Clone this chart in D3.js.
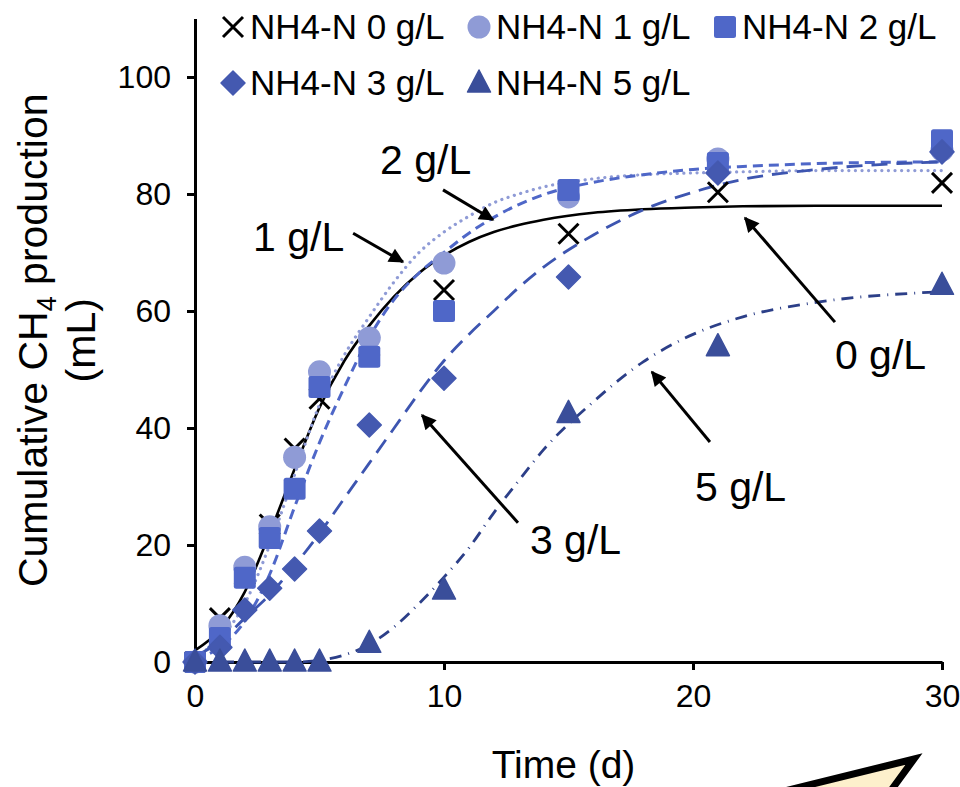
<!DOCTYPE html>
<html>
<head>
<meta charset="utf-8">
<script src="https://cdn.jsdelivr.net/npm/d3@7"></script>
<style>
  body { margin: 0; background: #fff; }
  text { font-family: "Liberation Sans", Arial, sans-serif; fill: #000; }
</style>
</head>
<body>
<div id="chart"></div>
<script>
//* measured points (days, mL)
var days = [0, 1, 2, 3, 4, 5, 7, 10, 15, 21, 30]
var nh0 = [0, 7.5, 15, 23.5, 36.5, 45, 54, 63.6, 73.2, 80.3, 81.9]
var nh1 = [0, 6.2, 16.2, 23.1, 35, 49.6, 55.4, 68.2, 79.5, 86, 87.5]
var nh2 = [0, 4.1, 14.4, 21.2, 29.6, 47, 52.2, 60, 80.7, 85.3, 89.2]
var nh3 = [0, 2.5, 8.9, 12.6, 15.9, 22.4, 40.5, 48.5, 65.8, 83.6, 87.2]
var nh5 = [0, 0, 0, 0, 0, 0, 3.2, 12.3, 42.5, 53.9, 64.4]

//* fitted curves
var fitDays = [0, 1, 2, 3, 4, 5, 6, 7, 8, 9, 10, 11, 12, 13, 14, 16, 18, 20, 22, 25, 30]
var fit0 = [2, 5.5, 12, 22, 33, 43.5, 51.5, 57.5, 62.5, 66.5, 69.5, 71.8, 73.5, 74.7, 75.6, 76.8, 77.4, 77.7, 77.9, 78, 78]
var fit1 = [1, 4, 10, 20, 32, 44, 52.5, 59, 65, 70, 73.5, 76.2, 78.5, 80, 81.2, 82.6, 83.3, 83.6, 83.8, 84, 84]
var fit2 = [0.5, 2.5, 7, 15, 26.5, 37.5, 47, 55.5, 62, 66.5, 70, 73.3, 76, 78.2, 79.9, 82, 83.3, 84.2, 84.7, 85.2, 85.5]
var fit3 = [1, 3.5, 7.5, 11.5, 16.5, 22, 28, 34, 40, 46, 51.5, 56, 60, 64, 67.5, 73, 77.3, 80.3, 82.5, 84.2, 85.5]
var fit5 = [0, 0, 0, 0, 0, 0.3, 1.2, 3, 6, 10, 14.5, 19.5, 25.5, 31, 36.3, 44.5, 51.3, 56, 59, 61.5, 63.3]

var legendLabels = ["NH4-N 0 g/L", "NH4-N 1 g/L", "NH4-N 2 g/L", "NH4-N 3 g/L", "NH4-N 5 g/L"]
var xTicks = [0, 10, 20, 30]
var yTicks = [0, 20, 40, 60, 80, 100]

var width = 960, height = 787

var svg = d3.select("#chart").append("svg")
    .attr("width", width)
    .attr("height", height)

var x = d3.scaleLinear().domain([0, 30]).range([195, 942])
var y = d3.scaleLinear().domain([0, 110]).range([662, 18.5])

// arrow head
svg.append("defs").append("marker")
    .attr("id", "arr")
    .attr("viewBox", "0 0 10 10")
    .attr("refX", 9).attr("refY", 5)
    .attr("markerWidth", 6).attr("markerHeight", 5)
    .attr("markerUnits", "strokeWidth")
    .attr("orient", "auto")
  .append("path").attr("d", "M0,0 L10,5 L0,10 z").attr("fill", "#000")

//* axes
var gx = svg.append("g")
    .attr("transform", "translate(0," + y(0) + ")")
    .call(d3.axisBottom(x).tickValues(xTicks).tickSize(8).tickSizeOuter(0).tickPadding(14))
var gy = svg.append("g")
    .attr("transform", "translate(" + x(0) + ",0)")
    .call(d3.axisLeft(y).tickValues(yTicks).tickSize(8).tickSizeOuter(0).tickPadding(16))
;[gx, gy].forEach(function(g) {
    g.select(".domain").attr("stroke", "#000").attr("stroke-width", 3)
    g.selectAll(".tick line").attr("stroke", "#000").attr("stroke-width", 3)
    g.selectAll(".tick text").attr("font-size", "32px").attr("font-family", "Liberation Sans, Arial, sans-serif").attr("fill", "#000")
})

svg.append("text")
    .attr("x", (x(0) + x(30)) / 2 - 5).attr("y", 778)
    .attr("text-anchor", "middle")
    .attr("font-size", "39px")
    .text("Time (d)")

var yt = svg.append("g").attr("transform", "translate(0," + ((y(0) + y(110)) / 2) + ") rotate(-90)")
var t1 = yt.append("text").attr("x", 0).attr("y", 47).attr("text-anchor", "middle").attr("font-size", "41px")
t1.append("tspan").text("Cumulative CH")
t1.append("tspan").attr("font-size", "27px").attr("dy", 9).text("4")
t1.append("tspan").attr("dy", -9).text(" production")
yt.append("text").attr("x", 0).attr("y", 95).attr("text-anchor", "middle").attr("font-size", "41px").text("(mL)")

//* fitted curves
var line = d3.line()
    .x(function(d) { return x(d[0]) })
    .y(function(d) { return y(d[1]) })
    .curve(d3.curveMonotoneX)

var fits = [
    {vals: fit0, color: "#000000", dash: null, w: 2.6},
    {vals: fit1, color: "#8f9bd6", dash: "0.1 6.5", w: 3.2},
    {vals: fit2, color: "#4f67c8", dash: "10 6", w: 3},
    {vals: fit3, color: "#3d55b0", dash: "16 9", w: 2.8},
    {vals: fit5, color: "#2c3f88", dash: "12 7 1 7", w: 2.8}
]
fits.forEach(function(f) {
    svg.append("path")
        .datum(fitDays.map(function(t, i) { return [t, f.vals[i]] }))
        .attr("d", line)
        .attr("fill", "none")
        .attr("stroke", f.color)
        .attr("stroke-width", f.w)
        .attr("stroke-linecap", f.dash && f.dash.indexOf("0.1") == 0 ? "round" : "butt")
        .attr("stroke-dasharray", f.dash)
})

//* markers
function drawMark(g, kind, cx, cy) {
    if (kind == "x") {
        g.append("path").attr("d", "M" + (cx - 10) + "," + (cy - 10) + "L" + (cx + 10) + "," + (cy + 10) + "M" + (cx + 10) + "," + (cy - 10) + "L" + (cx - 10) + "," + (cy + 10))
            .attr("stroke", "#000").attr("stroke-width", 3).attr("fill", "none")
    } else if (kind == "circle") {
        g.append("circle").attr("cx", cx).attr("cy", cy).attr("r", 11.5).attr("fill", "#8f9bd6")
    } else if (kind == "square") {
        g.append("rect").attr("x", cx - 11).attr("y", cy - 11).attr("width", 22).attr("height", 22).attr("rx", 2.5).attr("fill", "#4f67c8")
    } else if (kind == "diamond") {
        g.append("path").attr("d", "M" + cx + "," + (cy - 12) + "L" + (cx + 12) + "," + cy + "L" + cx + "," + (cy + 12) + "L" + (cx - 12) + "," + cy + "Z")
            .attr("fill", "#4459b0").attr("stroke", "#4459b0").attr("stroke-width", 1.5).attr("stroke-linejoin", "round")
    } else if (kind == "triangle") {
        g.append("path").attr("d", "M" + cx + "," + (cy - 13) + "L" + (cx + 11.5) + "," + (cy + 9) + "L" + (cx - 11.5) + "," + (cy + 9) + "Z")
            .attr("fill", "#3a4e9a").attr("stroke", "#3a4e9a").attr("stroke-width", 1.5).attr("stroke-linejoin", "round")
    }
}

var series = [
    {vals: nh0, kind: "x"},
    {vals: nh1, kind: "circle"},
    {vals: nh2, kind: "square"},
    {vals: nh3, kind: "diamond"},
    {vals: nh5, kind: "triangle"}
]
series.forEach(function(s) {
    var g = svg.append("g")
    days.forEach(function(t, i) { drawMark(g, s.kind, x(t), y(s.vals[i])) })
})

//* legend
var legPos = [[222, 27], [468, 27], [714, 27], [222, 83], [468, 83]]
legendLabels.forEach(function(lab, i) {
    var g = svg.append("g")
    drawMark(g, series[i].kind, legPos[i][0] + 11, legPos[i][1])
    g.append("text")
        .attr("x", legPos[i][0] + 28).attr("y", legPos[i][1] + 12)
        .attr("font-size", "35px")
        .text(lab)
})

//* annotations (data coords)
var notes = [
    {label: "2 g/L", tx: 7.43, ty: 83.4, from: [9.96, 80.7], to: [11.97, 75.6]},
    {label: "1 g/L", tx: 2.33, ty: 70.3, from: [6.35, 73.3], to: [8.35, 68.4]},
    {label: "0 g/L", tx: 25.7, ty: 50.1, from: [25.7, 58.1], to: [22.09, 75.9]},
    {label: "5 g/L", tx: 20.08, ty: 27.5, from: [20.68, 37.6], to: [18.35, 49.6]},
    {label: "3 g/L", tx: 13.45, ty: 18.5, from: [12.97, 23.8], to: [9.12, 42.2]}
]
notes.forEach(function(n) {
    svg.append("text").attr("x", x(n.tx)).attr("y", y(n.ty)).attr("font-size", "41px").text(n.label)
    svg.append("line")
        .attr("x1", x(n.from[0])).attr("y1", y(n.from[1]))
        .attr("x2", x(n.to[0])).attr("y2", y(n.to[1]))
        .attr("stroke", "#000").attr("stroke-width", 3)
        .attr("marker-end", "url(#arr)")
})

// cut-off callout shape in the corner
svg.append("path")
    .attr("d", "M748,800 L914,759 L884,800")
    .attr("fill", "#fdf0cc")
    .attr("stroke", "#000")
    .attr("stroke-width", 7)
    .attr("stroke-linejoin", "miter")
</script>
</body>
</html>
